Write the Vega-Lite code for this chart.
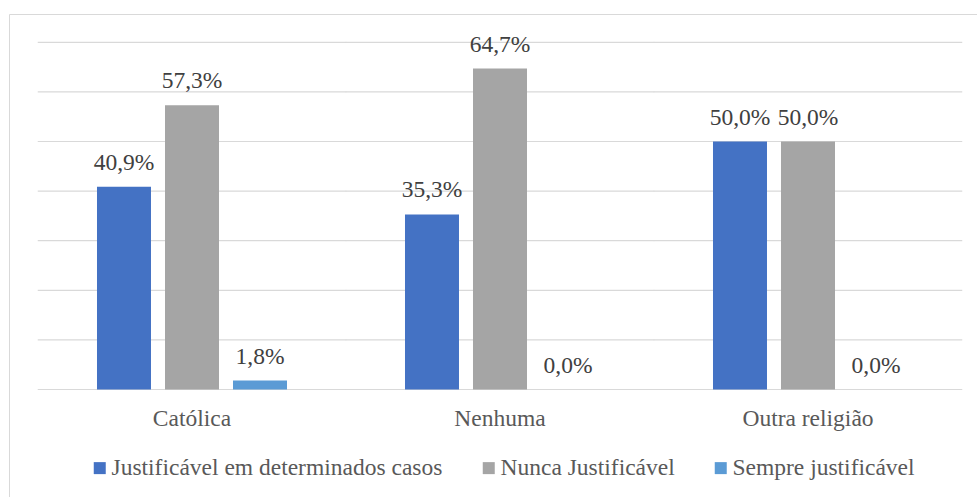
{
  "$schema": "https://vega.github.io/schema/vega-lite/v6.json",
  "width": 968,
  "height": 483,
  "autosize": {"type": "none"},
  "padding": {"left": 9, "top": 14, "right": 0, "bottom": 0},
  "background": "white",
  "datasets": {
    "bars": [
      {"religiao": "Católica", "serie": "Justificável em determinados casos", "valor": 0.409},
      {"religiao": "Católica", "serie": "Nunca Justificável", "valor": 0.573},
      {"religiao": "Católica", "serie": "Sempre justificável", "valor": 0.018},
      {"religiao": "Nenhuma", "serie": "Justificável em determinados casos", "valor": 0.353},
      {"religiao": "Nenhuma", "serie": "Nunca Justificável", "valor": 0.647},
      {"religiao": "Nenhuma", "serie": "Sempre justificável", "valor": 0.0},
      {"religiao": "Outra religião", "serie": "Justificável em determinados casos", "valor": 0.5},
      {"religiao": "Outra religião", "serie": "Nunca Justificável", "valor": 0.5},
      {"religiao": "Outra religião", "serie": "Sempre justificável", "valor": 0.0}
    ],
    "grade": [
      {"religiao": "Católica", "valor": 0}, {"religiao": "Católica", "valor": 0.1}, {"religiao": "Católica", "valor": 0.2}, {"religiao": "Católica", "valor": 0.3},
      {"religiao": "Católica", "valor": 0.4}, {"religiao": "Católica", "valor": 0.5}, {"religiao": "Católica", "valor": 0.6}, {"religiao": "Católica", "valor": 0.7},
      {"religiao": "Nenhuma", "valor": 0}, {"religiao": "Nenhuma", "valor": 0.1}, {"religiao": "Nenhuma", "valor": 0.2}, {"religiao": "Nenhuma", "valor": 0.3},
      {"religiao": "Nenhuma", "valor": 0.4}, {"religiao": "Nenhuma", "valor": 0.5}, {"religiao": "Nenhuma", "valor": 0.6}, {"religiao": "Nenhuma", "valor": 0.7},
      {"religiao": "Outra religião", "valor": 0}, {"religiao": "Outra religião", "valor": 0.1}, {"religiao": "Outra religião", "valor": 0.2}, {"religiao": "Outra religião", "valor": 0.3},
      {"religiao": "Outra religião", "valor": 0.4}, {"religiao": "Outra religião", "valor": 0.5}, {"religiao": "Outra religião", "valor": 0.6}, {"religiao": "Outra religião", "valor": 0.7}
    ]
  },
  "config": {
    "font": "Liberation Serif, Tinos, Times New Roman, DejaVu Serif, serif",
    "locale": {"number": {"decimal": ",", "thousands": ".", "grouping": [3], "currency": ["R$ ", ""]}},
    "view": {"stroke": "#D9D9D9", "strokeWidth": 1}
  },
  "layer": [
    {
      "data": {"name": "grade"},
      "mark": {"type": "tick", "orient": "horizontal", "color": "#D9D9D9", "size": 308.5, "thickness": 1.2, "opacity": 1},
      "encoding": {
        "x": {
          "field": "religiao", "type": "nominal",
          "scale": {"domain": ["Católica", "Nenhuma", "Outra religião"], "paddingInner": 0, "paddingOuter": 0.07143, "align": 0.659},
          "axis": {"orient": "bottom", "offset": -107.5, "domain": false, "ticks": false, "tickSize": 0, "grid": false, "labelAngle": 0, "labelPadding": 35.5, "labelBaseline": "alphabetic", "labelFont": "Liberation Serif, Tinos, Times New Roman, DejaVu Serif, serif", "labelFontSize": 23.5, "labelColor": "#595959", "title": null, "labelLimit": 400}
        },
        "y": {
          "field": "valor", "type": "quantitative",
          "scale": {"domain": [-0.2167, 0.7571], "nice": false, "zero": false},
          "axis": null
        }
      }
    },
    {
      "data": {"name": "bars"},
      "mark": {"type": "bar"},
      "encoding": {
        "x": {"field": "religiao", "type": "nominal"},
        "xOffset": {
          "field": "serie", "type": "nominal",
          "scale": {"domain": ["Justificável em determinados casos", "Nunca Justificável", "Sempre justificável"], "paddingInner": 0.2059, "paddingOuter": 0.8676}
        },
        "y": {"field": "valor", "type": "quantitative"},
        "y2": {"datum": 0},
        "color": {
          "field": "serie", "type": "nominal",
          "scale": {"domain": ["Justificável em determinados casos", "Nunca Justificável", "Sempre justificável"], "range": ["#4472C4", "#A5A5A5", "#5B9BD5"]},
          "legend": {"orient": "none", "legendX": 79, "legendY": 442, "direction": "horizontal", "title": null, "symbolType": "square", "symbolSize": 144, "symbolStrokeWidth": 0, "labelFont": "Liberation Serif, Tinos, Times New Roman, DejaVu Serif, serif", "labelFontSize": 23.5, "labelColor": "#595959", "labelLimit": 600, "labelOffset": 0, "columnPadding": 34, "padding": 0}
        }
      }
    },
    {
      "data": {"name": "bars"},
      "mark": {"type": "text", "baseline": "alphabetic", "dy": -17, "fontSize": 23.5, "font": "Liberation Serif, Tinos, Times New Roman, DejaVu Serif, serif", "color": "#404040"},
      "encoding": {
        "x": {"field": "religiao", "type": "nominal"},
        "xOffset": {"field": "serie", "type": "nominal"},
        "y": {"field": "valor", "type": "quantitative"},
        "text": {"field": "valor", "type": "quantitative", "format": ".1%"}
      }
    }
  ]
}
